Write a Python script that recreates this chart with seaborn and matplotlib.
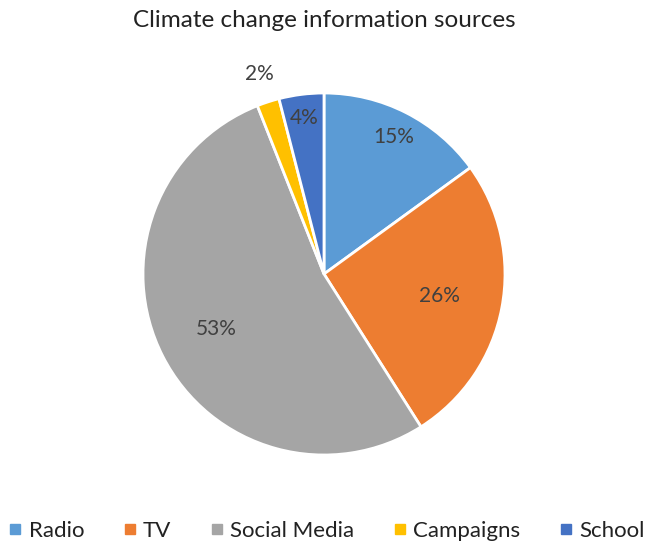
import numpy as np
import matplotlib.pyplot as plt
import seaborn as sns

sns.set_theme(style="white")
plt.rcParams['font.family'] = ['Lato', 'DejaVu Sans']

labels = ['Radio', 'TV', 'Social Media', 'Campaigns', 'School']
shares = [15, 26, 53, 2, 4]
colors = ['#5B9BD5', '#ED7D31', '#A5A5A5', '#FFC000', '#4472C4']
# radial position of each percentage label (fraction of radius)
label_dist = [0.85, 0.65, 0.67, 1.16, 0.87]

fig = plt.figure(figsize=(6.49, 5.47), dpi=100)
ax = fig.add_axes([(324 - 181) / 649, (547 - 455) / 547, 362 / 649, 362 / 547])

wedges, texts, autotexts = ax.pie(
    shares, colors=colors, startangle=90, counterclock=False,
    autopct=lambda p: f'{round(p)}%', pctdistance=0.7, radius=1,
    wedgeprops=dict(edgecolor='white', linewidth=2),
    textprops=dict(color='#404040', fontsize=15))

for w, t, d in zip(wedges, autotexts, label_dist):
    ang = np.deg2rad((w.theta1 + w.theta2) / 2)
    t.set_position((d * np.cos(ang), d * np.sin(ang)))
    t.set_ha('center')
    t.set_va('center')

ax.set_xlim(-1, 1)
ax.set_ylim(-1, 1)
ax.set_aspect('equal')
ax.axis('off')

fig.text(0.5, 0.962, 'Climate change information sources', ha='center', va='center',
         fontsize=17.5, color='#222222')

handles = [plt.Line2D([], [], marker='s', linestyle='', markersize=7, color=c) for c in colors]
fig.legend(handles, labels, loc='center', bbox_to_anchor=(0.5, 0.03), ncol=5,
           frameon=False, fontsize=16, handletextpad=0.1, columnspacing=1.55,
           handlelength=1.0, labelcolor='#222222')

fig.savefig('out.png', dpi=100)
